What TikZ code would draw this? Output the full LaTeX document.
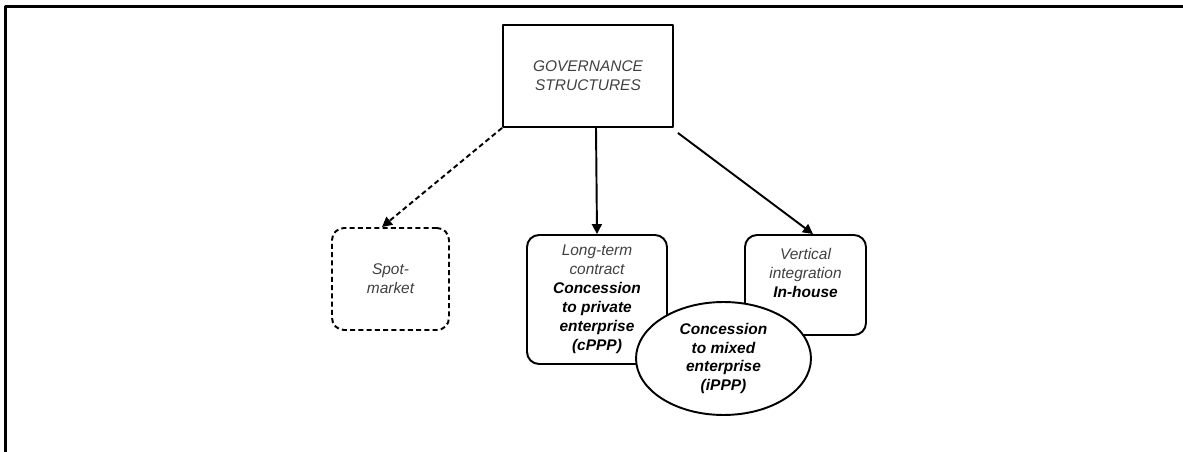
\documentclass[tikz,border=0pt]{standalone}
\usepackage{fontspec}
\setmainfont{Liberation Sans}
\usetikzlibrary{arrows.meta,shapes.geometric}
\newcommand{\bfline}[1]{\textcolor{black}{\bfseries #1}}

\begin{document}
\begin{tikzpicture}[x=0.02cm,y=-0.02cm,>={Triangle[length=0.2cm,width=0.2cm]},line join=round,
  every node/.style={font=\fontsize{8.8}{10.8}\selectfont\itshape,text=black!75,align=center},
  box/.style={draw,line width=1.1pt},
  govbox/.style={box,minimum width=3.4cm,minimum height=2.04cm},
  rbox/.style={box,rounded corners=0.24cm},
  spotbox/.style={rbox,dash pattern=on 0.1cm off 0.065cm,minimum width=2.34cm,minimum height=2.04cm},
  ovalbox/.style={box,ellipse,fill=white,inner sep=0pt,minimum width=3.5cm,minimum height=2.26cm,
    text=black,font=\fontsize{8.8}{10.8}\selectfont\bfseries\itshape},
  link/.style={line width=1.1pt,->}]
  \useasboundingbox (0,0) rectangle (1183,452);
  % frame
  \draw[line width=1.6pt] (5.5,452) -- (5.5,6.5) -- (1183,6.5);
  % boxes
  \node[govbox] (gov) at (588,76) {GOVERNANCE\\STRUCTURES};
  \node[spotbox] (spot) at (390.5,279) {Spot-\\market};
  \node[rbox,minimum width=2.8cm,minimum height=2.58cm] (long) at (597,299.5)
    {Long-term\\contract\\\bfline{Concession}\\\bfline{to private}\\\bfline{enterprise}\\\bfline{(cPPP)}};
  \node[rbox,minimum width=2.42cm,minimum height=2cm] (vert) at (805.5,285)
    {Vertical\\integration\\\bfline{In-house}\\\strut};
  \node[ovalbox] (mixed) at (723.5,358.5) {Concession\\to mixed\\enterprise\\(iPPP)};
  % arrows
  \draw[link,dash pattern=on 0.1cm off 0.065cm] (gov.south west) -- ([xshift=-0.17cm]spot.north);
  \draw[link] ([xshift=0.16cm]gov.south) -- (long.north);
  \draw[link] ([xshift=0.08cm,yshift=-0.1cm]gov.south east) -- ([xshift=0.15cm]vert.north);
\end{tikzpicture}
\end{document}
